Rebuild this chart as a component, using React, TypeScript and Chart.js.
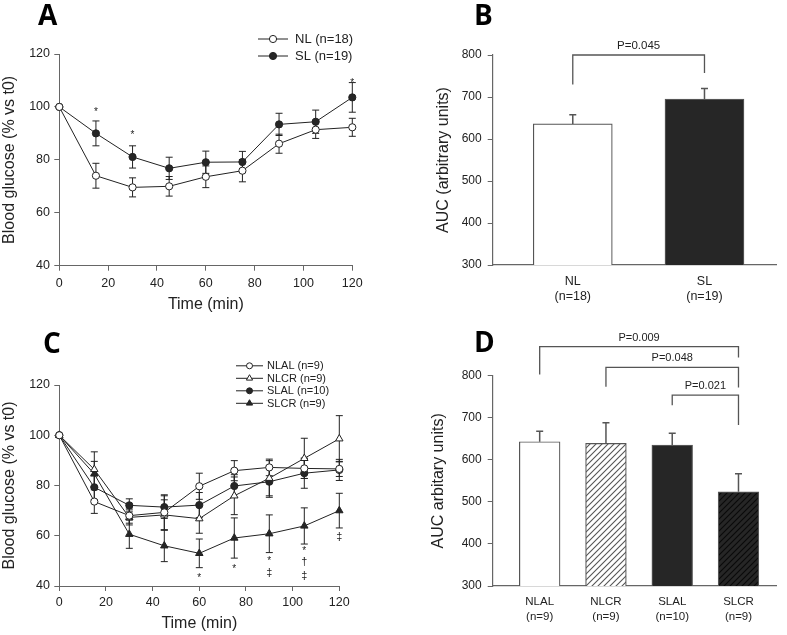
import React, { useEffect, useRef } from 'react';
import { Chart, registerables } from 'chart.js';

Chart.register(...registerables);

const FONT = '"Liberation Sans", Arial, Helvetica, sans-serif';
const LETTER_FONT = '"Open Sans", "Liberation Sans", Arial, sans-serif';
const INK = '#222222';
const AXIS = '#666666';
const DARK = '#262626';

// ---------- Panel A ----------
const timeMin = [0, 15, 30, 45, 60, 75, 90, 105, 120];
const nlMean = [100, 74, 69.6, 70, 73.6, 75.9, 86.1, 91.4, 92.3];
const nlErr = [0, 4.7, 3.6, 3.7, 4.1, 4.2, 3.6, 3.3, 3.4];
const slMean = [100, 90, 81.1, 76.8, 79.1, 79.2, 93.4, 94.4, 103.6];
const slErr = [0, 4.7, 4.2, 4.2, 4.2, 4.0, 4.2, 4.4, 5.6];
const sigATime = [15, 30, 120];
const sigAValue = [98.8, 90.1, 109.6];
const sigALabel = ['*', '*', '*'];

// ---------- Panel B ----------
const aucGroupsB = [['NL', '(n=18)'], ['SL', '(n=19)']];
const aucMeanB = [636, 695];
const aucErrB = [22, 25];
const bracketB = [{ from: 0, to: 1, level: 800, leftEnd: 730, rightEnd: 757, label: 'P=0.045' }];

// ---------- Panel C ----------
const nlalMean = [100, 73.6, 68, 69.3, 79.7, 85.9, 87.2, 86.8, 86.6];
const nlalErr = [0, 4.7, 3, 7, 5.2, 4, 3.3, 4, 3];
const nlcrMean = [100, 86.4, 67.3, 68.3, 66.8, 75.9, 82.9, 90.8, 98.6];
const nlcrErr = [0, 7, 3, 6, 5.8, 7.5, 7, 8, 9.2];
const slalMean = [100, 79.3, 72.1, 71.4, 72.2, 79.8, 81.5, 84.9, 86.2];
const slalErr = [0, 5, 2.6, 4.5, 5, 4.5, 6.2, 6, 4.2];
const slcrMean = [100, 84.6, 60.6, 56, 53, 59.1, 60.8, 63.9, 70];
const slcrErr = [0, 5, 5.6, 6.3, 5.7, 8, 7.5, 7.2, 6.9];
const sigCTime = [60, 75, 90, 90, 105, 105, 105, 120];
const sigCValue = [43.7, 47.4, 50.6, 45.3, 54.6, 49.4, 44.0, 59.4];
const sigCLabel = ['*', '*', '*', '\u2021', '*', '\u2020', '\u2021', '\u2021'];

// ---------- Panel D ----------
const aucGroupsD = [['NLAL', '(n=9)'], ['NLCR', '(n=9)'], ['SLAL', '(n=10)'], ['SLCR', '(n=9)']];
const aucMeanD = [643, 639, 635, 524];
const aucErrD = [25, 49, 28, 43];
const bracketsD = [
  { from: 0, to: 3, level: 869, leftEnd: 803, rightEnd: 843, label: 'P=0.009' },
  { from: 1, to: 3, level: 820, leftEnd: 774, rightEnd: 772, label: 'P=0.048' },
  { from: 2, to: 3, level: 754, leftEnd: 730, rightEnd: 683, label: 'P=0.021' },
];

function hatch(bg: string, line: string) {
  const c = document.createElement('canvas');
  c.width = 6;
  c.height = 6;
  const g = c.getContext('2d')!;
  g.fillStyle = bg;
  g.fillRect(0, 0, 6, 6);
  g.strokeStyle = line;
  g.lineWidth = 1.1;
  g.beginPath();
  g.moveTo(0, 6); g.lineTo(6, 0);
  g.moveTo(-3, 3); g.lineTo(3, -3);
  g.moveTo(3, 9); g.lineTo(9, 3);
  g.stroke();
  return g.createPattern(c, 'repeat');
}

function drawMarker(ctx: CanvasRenderingContext2D, style: string, x: number, y: number, r: number, fill: string) {
  ctx.beginPath();
  if (style === 'triangle') {
    let rad = 0;
    ctx.moveTo(x + Math.sin(rad) * r, y - Math.cos(rad) * r);
    rad += (2 * Math.PI) / 3;
    ctx.lineTo(x + Math.sin(rad) * r, y - Math.cos(rad) * r);
    rad += (2 * Math.PI) / 3;
    ctx.lineTo(x + Math.sin(rad) * r, y - Math.cos(rad) * r);
    ctx.closePath();
  } else {
    ctx.arc(x, y, r, 0, Math.PI * 2);
  }
  ctx.fillStyle = fill;
  ctx.fill();
  ctx.lineWidth = 1;
  ctx.strokeStyle = INK;
  ctx.stroke();
}

function drawErrors(chart: any, upOnly: boolean, color: string, width: number) {
  const ctx = chart.ctx;
  const ys = chart.scales.y;
  ctx.save();
  ctx.strokeStyle = color;
  ctx.lineWidth = width;
  chart.data.datasets.forEach((ds: any, di: number) => {
    if (!ds.errors) return;
    const meta = chart.getDatasetMeta(di);
    ds.errors.forEach((e: number, i: number) => {
      if (!e) return;
      const px = meta.data[i].x;
      const v = ds.data[i].y;
      const top = ys.getPixelForValue(v + e);
      const bot = upOnly ? ys.getPixelForValue(v) : ys.getPixelForValue(v - e);
      const hw = 3.5;
      ctx.beginPath();
      ctx.moveTo(px, top); ctx.lineTo(px, bot);
      ctx.moveTo(px - hw, top); ctx.lineTo(px + hw, top);
      if (!upOnly) { ctx.moveTo(px - hw, bot); ctx.lineTo(px + hw, bot); }
      ctx.stroke();
    });
  });
  ctx.restore();
}

const extrasPlugin = {
  id: 'extras',
  beforeDatasetsDraw(chart: any, _a: any, opts: any) {
    if (opts.errorsBehind) drawErrors(chart, false, INK, 1);
  },
  afterDatasetsDraw(chart: any, _a: any, opts: any) {
    if (opts.barErrors) drawErrors(chart, true, '#555', 1.5);
  },
  afterDraw(chart: any, _a: any, opts: any) {
    const ctx: CanvasRenderingContext2D = chart.ctx;
    const xs = chart.scales.x;
    const ys = chart.scales.y;
    ctx.save();
    if (opts.letter) {
      ctx.font = `bold 28px ${LETTER_FONT}`;
      ctx.fillStyle = '#000';
      ctx.textAlign = 'left';
      ctx.textBaseline = 'alphabetic';
      ctx.fillText(opts.letter.text, opts.letter.x, opts.letter.y);
    }
    if (opts.legend) {
      const L = opts.legend;
      ctx.font = `${L.size}px ${FONT}`;
      ctx.textBaseline = 'middle';
      ctx.textAlign = 'left';
      chart.data.datasets.forEach((ds: any, i: number) => {
        const y = L.y0 + i * L.step;
        ctx.strokeStyle = INK;
        ctx.lineWidth = 1;
        ctx.beginPath();
        ctx.moveTo(L.x0, y); ctx.lineTo(L.x1, y);
        ctx.stroke();
        const r = ds.pointStyle === 'triangle' ? L.triR : L.circR;
        drawMarker(ctx, ds.pointStyle, (L.x0 + L.x1) / 2, y, r, ds.pointBackgroundColor);
        ctx.fillStyle = INK;
        ctx.fillText(ds.label, L.textX, y + 0.5);
      });
    }
    if (opts.marks) {
      ctx.fillStyle = INK;
      ctx.textAlign = 'center';
      ctx.textBaseline = 'middle';
      opts.marks.time.forEach((t: number, i: number) => {
        const lab = opts.marks.label[i];
        ctx.font = `${lab === '*' ? 10 : 11}px ${FONT}`;
        ctx.fillText(lab, xs.getPixelForValue(t), ys.getPixelForValue(opts.marks.value[i]) + (lab === '*' ? 2 : 0));
      });
    }
    if (opts.brackets) {
      ctx.strokeStyle = '#555';
      ctx.lineWidth = 1.3;
      ctx.fillStyle = INK;
      ctx.font = `${opts.bracketFont}px ${FONT}`;
      ctx.textAlign = 'center';
      ctx.textBaseline = 'alphabetic';
      opts.brackets.forEach((b: any) => {
        const x1 = xs.getPixelForValue(b.from);
        const x2 = xs.getPixelForValue(b.to);
        const yl = ys.getPixelForValue(b.level);
        ctx.beginPath();
        ctx.moveTo(x1, ys.getPixelForValue(b.leftEnd));
        ctx.lineTo(x1, yl);
        ctx.lineTo(x2, yl);
        ctx.lineTo(x2, ys.getPixelForValue(b.rightEnd));
        ctx.stroke();
        ctx.fillText(b.label, (x1 + x2) / 2, yl - 6);
      });
    }
    ctx.restore();
  },
};

function lineSeries(label: string, mean: number[], err: number[], style: string, fill: string, r: number) {
  return {
    label,
    data: timeMin.map((t, i) => ({ x: t, y: mean[i] })),
    errors: err,
    borderColor: INK,
    borderWidth: 1,
    pointStyle: style,
    pointRadius: r,
    pointBackgroundColor: fill,
    pointBorderColor: INK,
    pointBorderWidth: 1,
    backgroundColor: fill,
    tension: 0,
    clip: false,
  };
}

function axisCommon(size: number) {
  return { color: INK, font: { family: FONT, size } };
}

function lineConfig(datasets: any[], g: any, extras: any): any {
  return {
    type: 'line',
    data: { datasets },
    plugins: [extrasPlugin],
    options: {
      responsive: false,
      animation: false,
      devicePixelRatio: 1,
      layout: { padding: { left: 0, right: g.padRight, top: g.padTop, bottom: 0 } },
      plugins: { legend: { display: false }, tooltip: { enabled: false }, extras },
      scales: {
        x: {
          type: 'linear', min: 0, max: 120,
          ticks: { stepSize: 20, padding: g.xTickPad, ...axisCommon(12.5) },
          grid: { drawOnChartArea: false, tickLength: 5, color: AXIS },
          border: { color: AXIS, width: 1 },
          title: { display: true, text: 'Time (min)', color: INK, font: { family: FONT, size: 16 }, padding: { top: 0, bottom: g.xTitlePad } },
          afterFit: (s: any) => { s.height = g.xHeight; },
        },
        y: {
          type: 'linear', min: 40, max: 120,
          ticks: { stepSize: 20, padding: 4.3, ...axisCommon(12.5) },
          grid: { drawOnChartArea: false, tickLength: 5, color: AXIS },
          border: { color: AXIS, width: 1 },
          title: { display: true, text: 'Blood glucose (% vs t0)', color: INK, font: { family: FONT, size: 16 }, padding: 0 },
          afterFit: (s: any) => { s.width = 59.3; },
        },
      },
    },
  };
}

function barConfig(groups: string[][], mean: number[], err: number[], fills: any[], g: any, extras: any): any {
  return {
    type: 'bar',
    data: {
      datasets: [{
        data: mean.map((v, i) => ({ x: i, y: v })),
        errors: err,
        backgroundColor: fills,
        borderColor: '#555',
        borderWidth: 1.2,
        barThickness: g.barWidth,
      }],
    },
    plugins: [extrasPlugin],
    options: {
      responsive: false,
      animation: false,
      devicePixelRatio: 1,
      layout: { padding: { left: g.padLeft, right: 11, top: g.padTop, bottom: 0 } },
      plugins: { legend: { display: false }, tooltip: { enabled: false }, extras: { ...extras, barErrors: true } },
      scales: {
        x: {
          type: 'linear', min: g.xMin, max: g.xMax, offset: false,
          afterBuildTicks: (s: any) => { s.ticks = groups.map((_, i) => ({ value: i })); },
          ticks: {
            autoSkip: false, maxRotation: 0, padding: g.xTickPad,
            color: INK, font: { family: FONT, size: g.catSize, lineHeight: 15 / g.catSize },
            callback: (v: any) => groups[v] || '',
          },
          grid: { display: false, offset: false },
          border: { color: AXIS, width: 1.2 },
          afterFit: (s: any) => { s.height = g.xHeight; },
        },
        y: {
          type: 'linear', min: 300, max: 800,
          ticks: { stepSize: 100, padding: 6, ...axisCommon(12) },
          grid: { drawOnChartArea: false, tickLength: 5, color: AXIS },
          border: { color: AXIS, width: 1.2 },
          title: { display: true, text: g.yTitle, color: INK, font: { family: FONT, size: 16 }, padding: 0 },
          afterFit: (s: any) => { s.width = g.yWidth; },
        },
      },
    },
  };
}

function makeA() {
  return lineConfig(
    [
      lineSeries('NL (n=18)', nlMean, nlErr, 'circle', '#ffffff', 3.6),
      lineSeries('SL (n=19)', slMean, slErr, 'circle', DARK, 3.6),
    ],
    { padRight: 40.7, padTop: 54, xHeight: 51.3, xTickPad: 5, xTitlePad: 2.4 },
    {
      errorsBehind: true,
      letter: { text: 'A', x: 38, y: 25 },
      legend: { x0: 258, x1: 288, textX: 295, y0: 39, step: 17, size: 13, circR: 3.6, triR: 4 },
      marks: { time: sigATime, value: sigAValue, label: sigALabel },
    },
  );
}

function makeC() {
  return lineConfig(
    [
      lineSeries('NLAL (n=9)', nlalMean, nlalErr, 'circle', '#ffffff', 3.6),
      lineSeries('NLCR (n=9)', nlcrMean, nlcrErr, 'triangle', '#ffffff', 4.3),
      lineSeries('SLAL (n=10)', slalMean, slalErr, 'circle', DARK, 3.6),
      lineSeries('SLCR (n=9)', slcrMean, slcrErr, 'triangle', DARK, 4.3),
    ],
    { padRight: 53.7, padTop: 68, xHeight: 49, xTickPad: 4.2, xTitlePad: 1.4 },
    {
      errorsBehind: true,
      letter: { text: 'C', x: 43, y: 36 },
      legend: { x0: 236, x1: 263, textX: 267, y0: 48.8, step: 12.5, size: 11, circR: 3, triR: 3.6 },
      marks: { time: sigCTime, value: sigCValue, label: sigCLabel },
    },
  );
}

function makeB() {
  return barConfig(
    aucGroupsB, aucMeanB, aucErrB, ['#ffffff', DARK],
    { padLeft: 41, yWidth: 58.7, padTop: 55, xHeight: 52, xMin: -0.608, xMax: 1.543, barWidth: 79, xTickPad: 1.5, catSize: 12.5, yTitle: 'AUC (arbitrary units)' },
    { letter: { text: 'B', x: 81, y: 25 }, brackets: bracketB, bracketFont: 11.5 },
  );
}

function makeD() {
  const fills = ['#ffffff', hatch('#ffffff', '#555555'), DARK, hatch(DARK, '#0a0a0a')];
  return barConfig(
    aucGroupsD, aucMeanD, aucErrD, fills,
    { padLeft: 36.3, yWidth: 63.4, padTop: 58.7, xHeight: 49, xMin: -0.709, xMax: 3.566, barWidth: 40.7, xTickPad: 0, catSize: 11.5, yTitle: 'AUC arbitary units)' },
    { letter: { text: 'D', x: 81, y: 35 }, brackets: bracketsD, bracketFont: 11 },
  );
}

function Panel({ x, y, w, h, make }: { x: number; y: number; w: number; h: number; make: () => any }) {
  const ref = useRef<HTMLCanvasElement>(null);
  useEffect(() => {
    const chart = new Chart(ref.current!, make());
    return () => chart.destroy();
  }, []);
  return (
    <canvas
      ref={ref}
      width={w}
      height={h}
      style={{ position: 'absolute', left: x, top: y, width: w, height: h, display: 'block' }}
    />
  );
}

export default function App() {
  return (
    <div style={{ position: 'absolute', left: 0, top: 0, width: 787, height: 635, background: '#ffffff', overflow: 'hidden' }}>
      <Panel x={0} y={0} w={393} h={317} make={makeA} />
      <Panel x={393} y={0} w={394} h={317} make={makeB} />
      <Panel x={0} y={317} w={393} h={318} make={makeC} />
      <Panel x={393} y={317} w={394} h={318} make={makeD} />
    </div>
  );
}
